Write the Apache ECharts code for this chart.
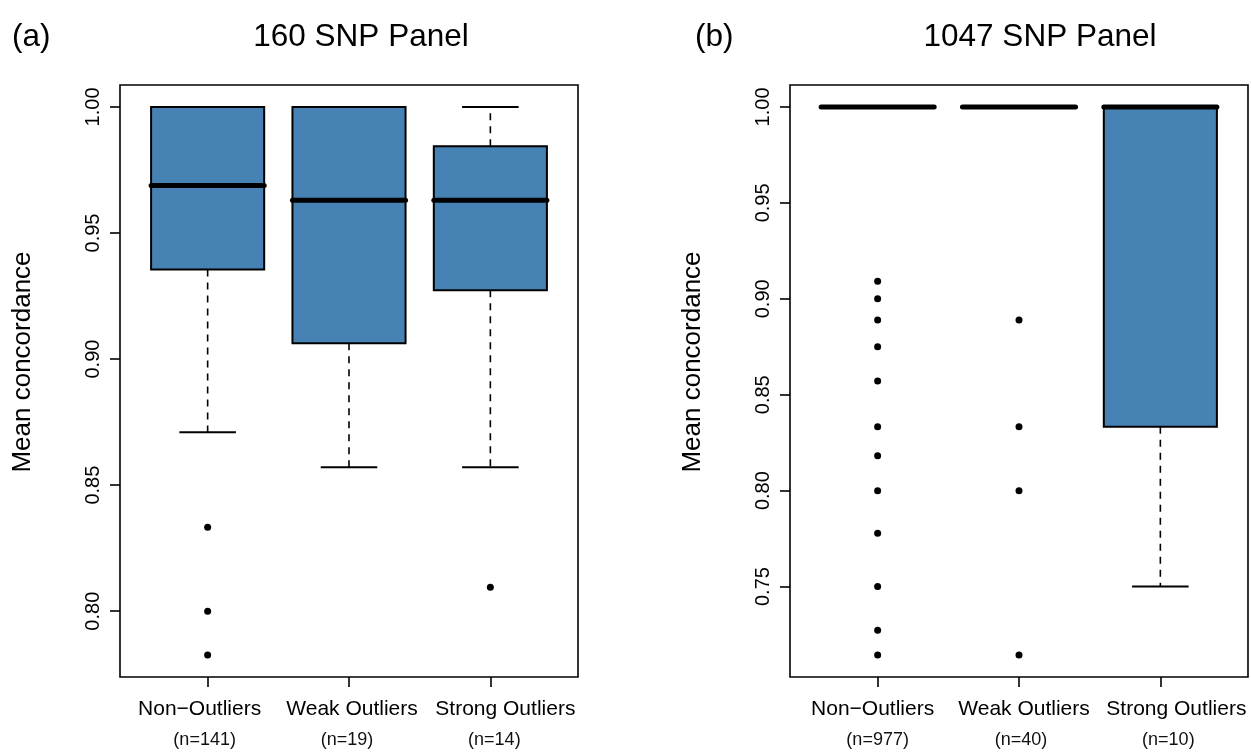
<!DOCTYPE html>
<html>
<head>
<meta charset="utf-8">
<script src="https://cdn.jsdelivr.net/npm/echarts@6/dist/echarts.min.js"></script>
<style>
  html, body { margin: 0; padding: 0; background: #fff; }
  #chart { width: 1251px; height: 752px; }
</style>
</head>
<body>
<div id="chart"></div>
<script>
// Group names and sample sizes
const categories = ['Non\u2212Outliers', 'Weak Outliers', 'Strong Outliers'];
const countsA = [141, 19, 14];
const countsB = [977, 40, 10];

// Box statistics per group: [lower whisker, Q1, median, Q3, upper whisker]
const statsA = [
  [0.8710, 0.9355, 0.9688, 1.0000, 1.0000],
  [0.8571, 0.9063, 0.9630, 1.0000, 1.0000],
  [0.8571, 0.9273, 0.9630, 0.9844, 1.0000]
];
const statsB = [
  [1.0000, 1.0000, 1.0000, 1.0000, 1.0000],
  [1.0000, 1.0000, 1.0000, 1.0000, 1.0000],
  [0.7500, 0.8333, 1.0000, 1.0000, 1.0000]
];

// Points beyond the whiskers, per group
const outliersA = [
  [0.8333, 0.8000, 0.7826],
  [],
  [0.8095]
];
const outliersB = [
  [0.9091, 0.9000, 0.8889, 0.8750, 0.8571, 0.8333, 0.8182, 0.8000, 0.7778, 0.7500, 0.7273, 0.7143],
  [0.8889, 0.8333, 0.8000, 0.7143],
  []
];

// Y tick values
const yTicksA = [0.80, 0.85, 0.90, 0.95, 1.00];
const yTicksB = [0.75, 0.80, 0.85, 0.90, 0.95, 1.00];

const FONT = 'Liberation Sans, Arial, Helvetica, sans-serif';
const BOX_FILL = '#4682B4';

function boxData(stats) {
  return stats.map((s, i) => [i + 1].concat(s));
}
function outlierData(outs) {
  const pts = [];
  outs.forEach((list, i) => list.forEach(v => pts.push([i + 1, v])));
  return pts;
}
// axis range padded by 4% on each side of the data
function padRange(stats, outs) {
  let lo = Infinity, hi = -Infinity;
  stats.forEach(s => s.forEach(v => { lo = Math.min(lo, v); hi = Math.max(hi, v); }));
  outs.forEach(l => l.forEach(v => { lo = Math.min(lo, v); hi = Math.max(hi, v); }));
  const d = (hi - lo) * 0.04;
  return [lo - d, hi + d];
}

function renderBox(params, api) {
  const x = api.value(0);
  const lo = api.value(1), q1 = api.value(2), med = api.value(3), q3 = api.value(4), hi = api.value(5);
  const w = api.size([0.8, 0])[0];
  const half = w / 2, capHalf = w / 4;
  const pLo = api.coord([x, lo]), pQ1 = api.coord([x, q1]), pMed = api.coord([x, med]),
        pQ3 = api.coord([x, q3]), pHi = api.coord([x, hi]);
  const cx = pMed[0];
  const dash = { stroke: '#000', lineWidth: 1.6, lineDash: [7, 6] };
  const solid = { stroke: '#000', lineWidth: 2 };
  const children = [];
  if (pHi[1] < pQ3[1]) children.push({ type: 'line', shape: { x1: cx, y1: pQ3[1], x2: cx, y2: pHi[1] }, style: dash });
  if (pLo[1] > pQ1[1]) children.push({ type: 'line', shape: { x1: cx, y1: pQ1[1], x2: cx, y2: pLo[1] }, style: dash });
  children.push({ type: 'line', shape: { x1: cx - capHalf, y1: pHi[1], x2: cx + capHalf, y2: pHi[1] }, style: solid });
  children.push({ type: 'line', shape: { x1: cx - capHalf, y1: pLo[1], x2: cx + capHalf, y2: pLo[1] }, style: solid });
  children.push({ type: 'rect', shape: { x: cx - half, y: pQ3[1], width: w, height: pQ1[1] - pQ3[1] },
    style: { fill: BOX_FILL, stroke: '#000', lineWidth: 2 } });
  children.push({ type: 'line', shape: { x1: cx - half, y1: pMed[1], x2: cx + half, y2: pMed[1] },
    style: { stroke: '#000', lineWidth: 5, lineCap: 'round' } });
  return { type: 'group', children: children };
}

const rangeA = padRange(statsA, outliersA);
const rangeB = padRange(statsB, outliersB);

// horizontal nudge (px) of each group label line; positive moves right
function padFor(shift) {
  return shift >= 0 ? [0, 0, 0, 2 * shift] : [0, -2 * shift, 0, 0];
}
// Group labels: the outer two groups sit on the main axis (which also draws the ticks),
// the middle group on a companion axis so neighbouring labels are never culled.
function xAxisFor(gridIndex, counts, nameShift, countShift, labelGroups, withTicks) {
  const rich = {};
  for (let i = 0; i < 3; i++) {
    rich['a' + i] = { fontFamily: FONT, fontSize: 21, lineHeight: 26, color: '#000', padding: padFor(nameShift[i]) };
    rich['b' + i] = { fontFamily: FONT, fontSize: 18, lineHeight: 36, color: '#111', padding: padFor(countShift[i]) };
  }
  return {
    type: 'value', gridIndex: gridIndex, min: 0.38, max: 3.62, position: 'bottom', offset: 0,
    axisLine: { show: false },
    splitLine: { show: false },
    axisTick: { show: withTicks, customValues: [1, 2, 3], length: 10, inside: false,
      lineStyle: { color: '#000', width: 1.6 } },
    axisLabel: {
      customValues: labelGroups, margin: 19, color: '#000',
      showMinLabel: true, showMaxLabel: true,
      formatter: v => {
        const i = Math.round(v) - 1;
        return '{a' + i + '|' + categories[i] + '}\n{b' + i + '|(n=' + counts[i] + ')}';
      },
      rich: rich
    }
  };
}
function yAxisFor(gridIndex, range, ticks) {
  return {
    type: 'value', gridIndex: gridIndex, min: range[0], max: range[1],
    name: 'Mean concordance', nameLocation: 'middle', nameRotate: 90, nameGap: 84,
    nameTextStyle: { fontFamily: FONT, fontSize: 26, color: '#000', padding: [0, 0, 0, 38] },
    axisLine: { show: false },
    splitLine: { show: false },
    axisTick: { show: true, customValues: ticks, length: 10, inside: false,
      lineStyle: { color: '#000', width: 1.6 } },
    axisLabel: { customValues: ticks, rotate: 90, margin: 17, color: '#000',
      showMinLabel: true, showMaxLabel: true,
      fontFamily: FONT, fontSize: 20, formatter: v => v.toFixed(2) }
  };
}

const titleStyle = { fontFamily: FONT, fontSize: 31.5, fontWeight: 'normal', color: '#000' };
const shiftsA = { name: [-8, 3, 15], count: [-3, -2, 4] };
const shiftsB = { name: [-5, 5, 16], count: [0, 2, 8] };

const chart = echarts.init(document.getElementById('chart'), null, { renderer: 'canvas' });
chart.setOption({
  backgroundColor: '#fff',
  animation: false,
  title: [
    { text: '(a)', left: 7, top: 16, textStyle: titleStyle },
    { text: '160 SNP Panel', left: 356, top: 16, textAlign: 'center', textStyle: titleStyle },
    { text: '(b)', left: 690, top: 16, textStyle: titleStyle },
    { text: '1047 SNP Panel', left: 1035, top: 16, textAlign: 'center', textStyle: titleStyle }
  ],
  grid: [
    { left: 120, top: 85, width: 458, height: 592, show: true, borderColor: '#000', borderWidth: 1.6, backgroundColor: 'transparent' },
    { left: 790, top: 85, width: 458, height: 592, show: true, borderColor: '#000', borderWidth: 1.6, backgroundColor: 'transparent' }
  ],
  xAxis: [
    xAxisFor(0, countsA, shiftsA.name, shiftsA.count, [1, 3], true),
    xAxisFor(1, countsB, shiftsB.name, shiftsB.count, [1, 3], true),
    xAxisFor(0, countsA, shiftsA.name, shiftsA.count, [2], false),
    xAxisFor(1, countsB, shiftsB.name, shiftsB.count, [2], false)
  ],
  yAxis: [yAxisFor(0, rangeA, yTicksA), yAxisFor(1, rangeB, yTicksB)],
  series: [
    { type: 'custom', xAxisIndex: 0, yAxisIndex: 0, renderItem: renderBox,
      encode: { x: 0, y: [1, 2, 3, 4, 5] }, data: boxData(statsA), silent: true },
    { type: 'scatter', xAxisIndex: 0, yAxisIndex: 0, symbol: 'circle', symbolSize: 7,
      itemStyle: { color: '#000', opacity: 1 }, data: outlierData(outliersA), silent: true },
    { type: 'custom', xAxisIndex: 1, yAxisIndex: 1, renderItem: renderBox,
      encode: { x: 0, y: [1, 2, 3, 4, 5] }, data: boxData(statsB), silent: true },
    { type: 'scatter', xAxisIndex: 1, yAxisIndex: 1, symbol: 'circle', symbolSize: 7,
      itemStyle: { color: '#000', opacity: 1 }, data: outlierData(outliersB), silent: true }
  ]
});
</script>
</body>
</html>
